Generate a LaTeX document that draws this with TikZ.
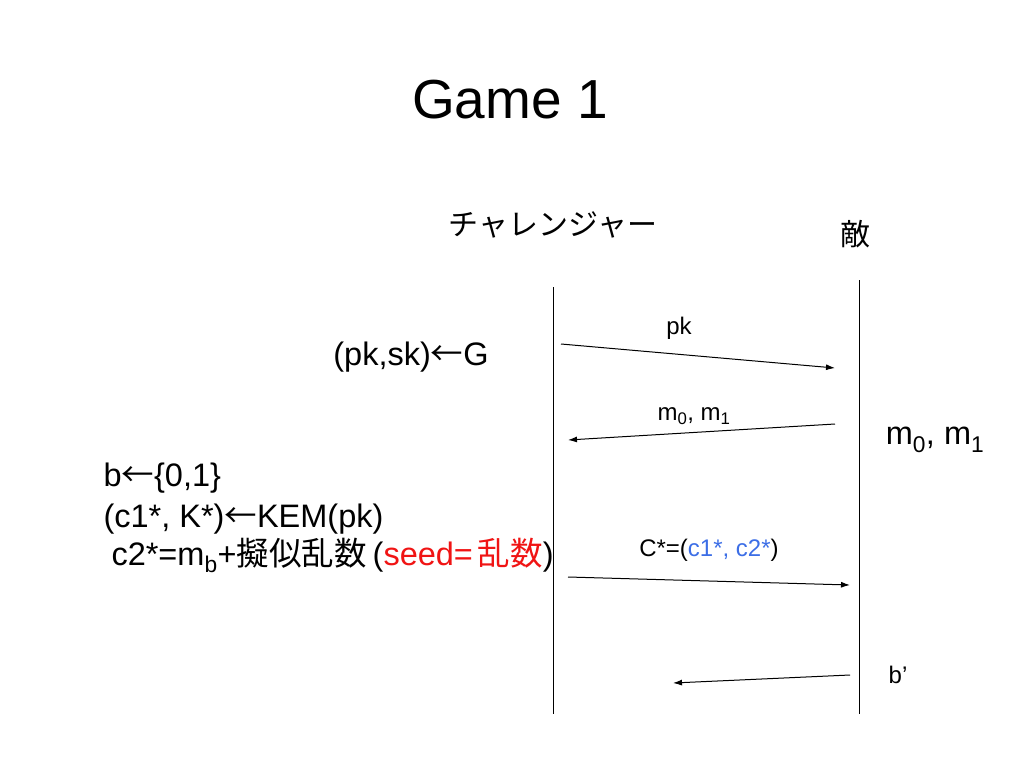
\documentclass[tikz,border=0pt]{standalone}
\usepackage{fontspec}
\setmainfont{Liberation Sans}
\newfontfamily\jafont{Noto Sans CJK JP}
\usetikzlibrary{arrows.meta}
\usepackage{xcolor}
\definecolor{seedred}{RGB}{240,20,20}
\definecolor{cblue}{RGB}{60,110,230}
\newcommand{\lo}[1]{\textsubscript{#1}}
\newcommand{\kj}[1]{{\jafont #1}}

\begin{document}
\begin{tikzpicture}[x=1pt, y=-1pt,
    msg/.style={-{Latex[length=9pt,width=6pt]}, line width=1pt},
    lifeline/.style={line width=1pt},
    body/.style={font=\fontsize{32.5}{38}\selectfont},
    small/.style={font=\fontsize{24}{28}\selectfont}]

        \useasboundingbox (0,0) rectangle (1024,768);

        % 1. Title and parties
        \node[font=\fontsize{55}{60}\selectfont, anchor=base] (title) at (510,118) {Game 1};
        \node[font=\fontsize{30}{34}\selectfont\jafont] (chal) at (553,225) {チャレンジャー};
        \node[font=\fontsize{30}{34}\selectfont\jafont] (adv) at (855,234) {敵};

        % 2. Lifelines
        \coordinate (Ltop) at (553,287);
        \coordinate (Lbot) at (553,714);
        \coordinate (Rtop) at (859,280);
        \coordinate (Rbot) at (859,714);
        \draw[lifeline] (Ltop) -- (Lbot);
        \draw[lifeline] (Rtop) -- (Rbot);

        % 3. Message end points
        \coordinate (pkS) at (561,344);
        \coordinate (pkE) at (835,368);
        \coordinate (mS) at (835,424);
        \coordinate (mE) at (568,440);
        \coordinate (cS) at (568,577);
        \coordinate (cE) at (850,585);
        \coordinate (bS) at (850,675);
        \coordinate (bE) at (673,683);

        % Draw the messages
        \foreach \s/\e in {pkS/pkE, mS/mE, cS/cE, bS/bE} {
            \draw[msg] (\s) -- (\e);
        }

        % 4. Message labels
        \node[small] (lpk) at (679,328) {pk};
        \node[small] (lm) at (694,416) {m\lo{0}, m\lo{1}};
        \node[small] (lc) at (709,550) {C*=(\textcolor{cblue}{c1*, c2*})};
        \node[small] (lb) at (898,675) {b’};

        % 5. Challenger side
        \node[body] (keygen) at (411,357) {(pk,sk){\jafont ←}G};
        \node[body, anchor=base west] (pickb) at (100,486) {b{\jafont ←}\{0,1\}};
        \node[body, anchor=base west] (kem) at (100,527) {(c1*, K*){\jafont ←}KEM(pk)};
        \node[body, anchor=base west] (enc) at (108,565)
            {c2*=m\lo{b}+\kj{擬似乱数}\kern6pt(\textcolor{seedred}{seed=\kern5pt\kj{乱数}})};

        % 6. Adversary side
        \node[body] (msgs) at (935,440) {m\lo{0}, m\lo{1}};

\end{tikzpicture}
\end{document}
